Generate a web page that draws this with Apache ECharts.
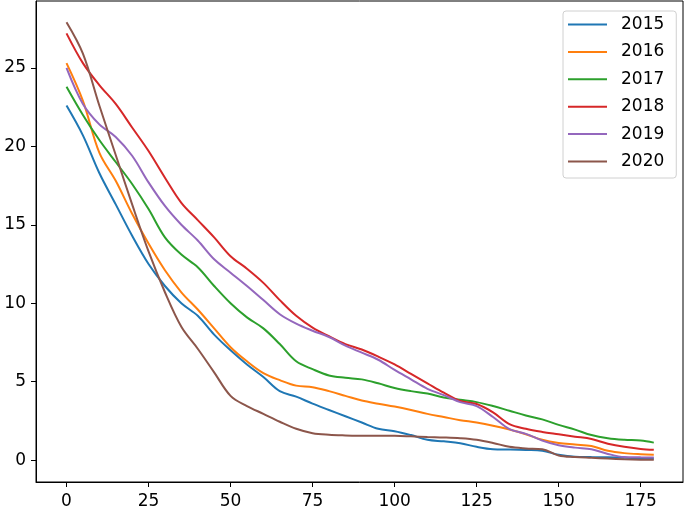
<!DOCTYPE html>
<html>
<head>
<meta charset="utf-8">
<script src="https://cdn.jsdelivr.net/npm/echarts@6/dist/echarts.min.js"></script>
<style>
  html, body { margin: 0; padding: 0; background: #fff; }
  #main { width: 685px; height: 510px; }
</style>
</head>
<body>
<div id="main"></div>
<script>
// x positions of the sampled points
const xs = [0, 5, 10, 15, 20, 25, 30, 35, 40, 45, 50, 55, 60, 65, 70, 75, 80, 85, 90,
  95, 100, 105, 110, 115, 120, 125, 130, 135, 140, 145, 150, 155, 160, 165, 170, 175, 179];

const years = ['2015', '2016', '2017', '2018', '2019', '2020'];
const colors = ['#1f77b4', '#ff7f0e', '#2ca02c', '#d62728', '#9467bd', '#8c564b'];

const y2015 = [22.6, 20.7, 18.3, 16.3, 14.3, 12.5, 11.1, 10.0, 9.2, 8.0, 7.0, 6.1, 5.3, 4.4, 4.05,
  3.6, 3.2, 2.8, 2.4, 2.0, 1.85, 1.6, 1.3, 1.2, 1.08, 0.85, 0.7, 0.68, 0.65, 0.6, 0.35, 0.22, 0.2,
  0.18, 0.15, 0.12, 0.1];
const y2016 = [25.3, 22.9, 19.6, 17.8, 15.7, 13.8, 12.1, 10.7, 9.6, 8.4, 7.2, 6.3, 5.55, 5.1, 4.75,
  4.65, 4.4, 4.1, 3.8, 3.6, 3.42, 3.2, 2.95, 2.75, 2.55, 2.4, 2.2, 1.95, 1.65, 1.3, 1.1, 1.0, 0.9,
  0.6, 0.45, 0.38, 0.35];
const y2017 = [23.8, 22.0, 20.4, 19.0, 17.6, 16.0, 14.2, 13.1, 12.3, 11.1, 10.0, 9.1, 8.4, 7.4, 6.3,
  5.8, 5.4, 5.25, 5.15, 4.9, 4.6, 4.4, 4.25, 4.0, 3.85, 3.7, 3.45, 3.15, 2.85, 2.6, 2.25, 1.95, 1.6,
  1.4, 1.3, 1.25, 1.12];
const y2018 = [27.2, 25.3, 23.9, 22.7, 21.2, 19.7, 18.0, 16.4, 15.3, 14.2, 13.0, 12.2, 11.3, 10.2, 9.2,
  8.45, 7.9, 7.4, 7.05, 6.6, 6.1, 5.5, 4.9, 4.3, 3.78, 3.58, 3.05, 2.3, 2.0, 1.8, 1.65, 1.5, 1.35,
  1.05, 0.85, 0.72, 0.66];
const y2019 = [25.0, 22.7, 21.4, 20.6, 19.4, 17.7, 16.2, 15.0, 14.0, 12.8, 11.95, 11.1, 10.2, 9.3, 8.7,
  8.25, 7.85, 7.3, 6.85, 6.4, 5.75, 5.15, 4.55, 4.15, 3.7, 3.45, 2.75, 1.98, 1.68, 1.25, 0.95, 0.8, 0.7,
  0.4, 0.2, 0.18, 0.17];
const y2020 = [27.9, 25.9, 22.6, 19.45, 16.3, 13.3, 10.7, 8.5, 7.1, 5.6, 4.1, 3.45, 2.95, 2.45, 2.0,
  1.72, 1.62, 1.58, 1.56, 1.55, 1.55, 1.52, 1.48, 1.45, 1.4, 1.3, 1.1, 0.85, 0.75, 0.7, 0.3, 0.2, 0.15,
  0.1, 0.06, 0.03, 0.02];

const xTicks = [0, 25, 50, 75, 100, 125, 150, 175];
const yTicks = [0, 5, 10, 15, 20, 25];

const allY = [y2015, y2016, y2017, y2018, y2019, y2020];

const font = 'DejaVu Sans';

function mkSeries(name, vals, color) {
  return {
    name: name,
    type: 'line',
    data: xs.map((x, i) => [x, vals[i]]),
    symbol: 'none',
    smooth: 0.35,
    lineStyle: { color: color, width: 2 },
    itemStyle: { color: color },
    z: 3
  };
}

const chart = echarts.init(document.getElementById('main'), null, { renderer: 'canvas' });

const option = {
  animation: false,
  backgroundColor: '#fff',
  grid: {
    left: 36, right: 2, top: 1, bottom: 28,
    show: true,
    borderColor: '#000',
    borderWidth: 1
  },
  legend: {
    orient: 'vertical',
    left: 563,
    top: 11,
    padding: [5, 12, 8, 5],
    icon: 'rect',
    itemWidth: 39,
    itemHeight: 2,
    itemGap: 10.4,
    borderColor: '#d0d0d0',
    borderWidth: 1,
    borderRadius: 3,
    backgroundColor: 'rgba(255,255,255,0.8)',
    textStyle: { fontFamily: font, fontSize: 17, color: '#000', padding: [0, 0, 0, 9], lineHeight: 17 },
    data: years
  },
  xAxis: {
    type: 'value',
    min: -9.3,
    max: 187.9,
    axisLine: { show: true, onZero: false, lineStyle: { color: '#000', width: 1 } },
    axisTick: { show: true, length: 5, inside: false, customValues: xTicks, lineStyle: { color: '#000' } },
    axisLabel: { customValues: xTicks, margin: 11, fontFamily: font, fontSize: 17, color: '#000' },
    splitLine: { show: false }
  },
  yAxis: {
    type: 'value',
    min: -1.39,
    max: 29.26,
    axisLine: { show: true, onZero: false, lineStyle: { color: '#000', width: 1 } },
    axisTick: { show: true, length: 5, inside: false, customValues: yTicks, lineStyle: { color: '#000' } },
    axisLabel: { customValues: yTicks, margin: 10, fontFamily: font, fontSize: 17, color: '#000' },
    splitLine: { show: false }
  },
  series: years.map((y, i) => mkSeries(y, allY[i], colors[i]))
};

chart.setOption(option);
</script>
</body>
</html>
